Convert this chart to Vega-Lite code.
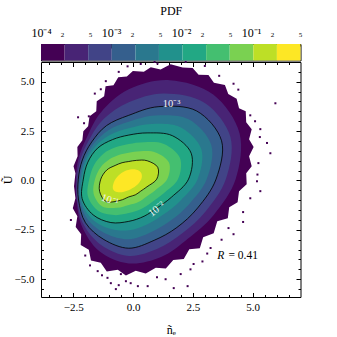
{
  "$schema": "https://vega.github.io/schema/vega-lite/v6.json",
  "padding": {"left": 0, "top": 3, "right": 5, "bottom": 8},
  "background": "white",
  "config": {
    "view": {"stroke": "black", "strokeWidth": 1},
    "font": "Liberation Serif",
    "axis": {"labelFont": "Liberation Serif", "titleFont": "Liberation Serif", "labelColor": "black", "titleColor": "black", "tickColor": "black", "titleFontWeight": "normal", "grid": false, "domain": false, "labelOverlap": false, "labelFlush": false}
  },
  "datasets": {
    "cbar": [
      {"lo": 0.0001, "hi": 0.0002173, "b": 1},
      {"lo": 0.0002173, "hi": 0.000472, "b": 2},
      {"lo": 0.000472, "hi": 0.001026, "b": 3},
      {"lo": 0.001026, "hi": 0.00223, "b": 4},
      {"lo": 0.00223, "hi": 0.00484, "b": 5},
      {"lo": 0.00484, "hi": 0.01052, "b": 6},
      {"lo": 0.01052, "hi": 0.02286, "b": 7},
      {"lo": 0.02286, "hi": 0.04966, "b": 8},
      {"lo": 0.04966, "hi": 0.1079, "b": 9},
      {"lo": 0.1079, "hi": 0.2344, "b": 10},
      {"lo": 0.2344, "hi": 0.5093, "b": 11}
    ],
    "fringe": [
      {"b":1,"i":1,"x":-2.47,"y":-0.29},{"b":1,"i":2,"x":-2.41,"y":0.37},{"b":1,"i":3,"x":-2.49,"y":0.72},{"b":1,"i":4,"x":-2.32,"y":1.23},{"b":1,"i":5,"x":-2.33,"y":1.69},{"b":1,"i":6,"x":-2.12,"y":2.04},{"b":1,"i":7,"x":-2.08,"y":2.49},{"b":1,"i":8,"x":-1.88,"y":2.75},{"b":1,"i":9,"x":-1.82,"y":3.25},{"b":1,"i":10,"x":-1.54,"y":3.51},{"b":1,"i":11,"x":-1.52,"y":4.01},{"b":1,"i":12,"x":-1.21,"y":4.27},{"b":1,"i":13,"x":-1.15,"y":4.77},{"b":1,"i":14,"x":-0.82,"y":4.82},{"b":1,"i":15,"x":-0.62,"y":5.23},{"b":1,"i":16,"x":-0.26,"y":5.26},{"b":1,"i":17,"x":-0.01,"y":5.55},{"b":1,"i":18,"x":0.45,"y":5.50},{"b":1,"i":19,"x":0.74,"y":5.74},{"b":1,"i":20,"x":1.15,"y":5.62},{"b":1,"i":21,"x":1.57,"y":5.88},{"b":1,"i":22,"x":2.07,"y":5.72},{"b":1,"i":23,"x":2.49,"y":5.70},{"b":1,"i":24,"x":2.74,"y":5.36},{"b":1,"i":25,"x":3.15,"y":5.34},{"b":1,"i":26,"x":3.38,"y":4.95},{"b":1,"i":27,"x":3.84,"y":4.84},{"b":1,"i":28,"x":3.98,"y":4.38},{"b":1,"i":29,"x":4.33,"y":4.14},{"b":1,"i":30,"x":4.43,"y":3.66},{"b":1,"i":31,"x":4.71,"y":3.50},{"b":1,"i":32,"x":4.73,"y":2.95},{"b":1,"i":33,"x":4.96,"y":2.60},{"b":1,"i":34,"x":4.85,"y":2.09},{"b":1,"i":35,"x":5.04,"y":1.69},{"b":1,"i":36,"x":4.85,"y":1.23},{"b":1,"i":37,"x":4.96,"y":0.72},{"b":1,"i":38,"x":4.73,"y":0.37},{"b":1,"i":39,"x":4.75,"y":-0.19},{"b":1,"i":40,"x":4.43,"y":-0.54},{"b":1,"i":41,"x":4.37,"y":-1.10},{"b":1,"i":42,"x":4.02,"y":-1.35},{"b":1,"i":43,"x":3.96,"y":-1.91},{"b":1,"i":44,"x":3.52,"y":-2.06},{"b":1,"i":45,"x":3.37,"y":-2.67},{"b":1,"i":46,"x":2.93,"y":-2.87},{"b":1,"i":47,"x":2.79,"y":-3.43},{"b":1,"i":48,"x":2.35,"y":-3.48},{"b":1,"i":49,"x":2.12,"y":-3.98},{"b":1,"i":50,"x":1.68,"y":-4.03},{"b":1,"i":51,"x":1.37,"y":-4.46},{"b":1,"i":52,"x":0.95,"y":-4.42},{"b":1,"i":53,"x":0.53,"y":-4.71},{"b":1,"i":54,"x":0.11,"y":-4.57},{"b":1,"i":55,"x":-0.30,"y":-4.81},{"b":1,"i":56,"x":-0.64,"y":-4.52},{"b":1,"i":57,"x":-1.10,"y":-4.61},{"b":1,"i":58,"x":-1.35,"y":-4.17},{"b":1,"i":59,"x":-1.76,"y":-4.05},{"b":1,"i":60,"x":-1.85,"y":-3.51},{"b":1,"i":61,"x":-2.19,"y":-3.27},{"b":1,"i":62,"x":-2.17,"y":-2.72},{"b":1,"i":63,"x":-2.40,"y":-2.36},{"b":1,"i":64,"x":-2.33,"y":-1.81},{"b":1,"i":65,"x":-2.52,"y":-1.40},{"b":1,"i":66,"x":-2.41,"y":-0.90}
    ],
    "poly": [
      {"b":2,"i":0,"x":4.29,"y":0.07},{"b":2,"i":1,"x":4.45,"y":2.39},{"b":2,"i":2,"x":3.35,"y":4.35},{"b":2,"i":3,"x":1.53,"y":5.08},{"b":2,"i":4,"x":-0.18,"y":4.62},{"b":2,"i":5,"x":-1.34,"y":3.46},{"b":2,"i":6,"x":-1.93,"y":2.19},{"b":2,"i":7,"x":-2.28,"y":1.12},{"b":2,"i":8,"x":-2.39,"y":0.07},{"b":2,"i":9,"x":-2.36,"y":-1.03},{"b":2,"i":10,"x":-2.14,"y":-2.32},{"b":2,"i":11,"x":-1.42,"y":-3.57},{"b":2,"i":12,"x":-0.18,"y":-4.20},{"b":2,"i":13,"x":1.17,"y":-3.88},{"b":2,"i":14,"x":2.30,"y":-2.94},{"b":2,"i":15,"x":3.38,"y":-1.73},
      {"b":3,"i":0,"x":3.88,"y":0.07},{"b":3,"i":1,"x":4.07,"y":2.20},{"b":3,"i":2,"x":3.00,"y":3.93},{"b":3,"i":3,"x":1.30,"y":4.41},{"b":3,"i":4,"x":-0.18,"y":3.96},{"b":3,"i":5,"x":-1.22,"y":3.12},{"b":3,"i":6,"x":-1.83,"y":2.07},{"b":3,"i":7,"x":-2.20,"y":1.08},{"b":3,"i":8,"x":-2.34,"y":0.07},{"b":3,"i":9,"x":-2.33,"y":-1.01},{"b":3,"i":10,"x":-2.07,"y":-2.23},{"b":3,"i":11,"x":-1.32,"y":-3.28},{"b":3,"i":12,"x":-0.18,"y":-3.82},{"b":3,"i":13,"x":1.02,"y":-3.46},{"b":3,"i":14,"x":2.07,"y":-2.66},{"b":3,"i":15,"x":3.04,"y":-1.56},
      {"b":4,"i":0,"x":3.47,"y":0.07},{"b":4,"i":1,"x":3.70,"y":2.01},{"b":4,"i":2,"x":2.66,"y":3.52},{"b":4,"i":3,"x":1.08,"y":3.74},{"b":4,"i":4,"x":-0.18,"y":3.30},{"b":4,"i":5,"x":-1.11,"y":2.78},{"b":4,"i":6,"x":-1.73,"y":1.95},{"b":4,"i":7,"x":-2.12,"y":1.04},{"b":4,"i":8,"x":-2.29,"y":0.07},{"b":4,"i":9,"x":-2.28,"y":-0.99},{"b":4,"i":10,"x":-1.99,"y":-2.14},{"b":4,"i":11,"x":-1.22,"y":-2.99},{"b":4,"i":12,"x":-0.18,"y":-3.43},{"b":4,"i":13,"x":0.88,"y":-3.03},{"b":4,"i":14,"x":1.83,"y":-2.38},{"b":4,"i":15,"x":2.70,"y":-1.39},
      {"b":5,"i":0,"x":3.08,"y":0.07},{"b":5,"i":1,"x":3.27,"y":1.80},{"b":5,"i":2,"x":2.32,"y":3.10},{"b":5,"i":3,"x":0.93,"y":3.29},{"b":5,"i":4,"x":-0.18,"y":2.97},{"b":5,"i":5,"x":-1.03,"y":2.55},{"b":5,"i":6,"x":-1.65,"y":1.85},{"b":5,"i":7,"x":-2.04,"y":1.00},{"b":5,"i":8,"x":-2.22,"y":0.07},{"b":5,"i":9,"x":-2.23,"y":-0.97},{"b":5,"i":10,"x":-1.88,"y":-2.00},{"b":5,"i":11,"x":-1.13,"y":-2.70},{"b":5,"i":12,"x":-0.18,"y":-2.98},{"b":5,"i":13,"x":0.74,"y":-2.62},{"b":5,"i":14,"x":1.56,"y":-2.04},{"b":5,"i":15,"x":2.34,"y":-1.20},
      {"b":6,"i":0,"x":2.70,"y":0.07},{"b":6,"i":1,"x":2.85,"y":1.59},{"b":6,"i":2,"x":1.98,"y":2.69},{"b":6,"i":3,"x":0.78,"y":2.86},{"b":6,"i":4,"x":-0.18,"y":2.64},{"b":6,"i":5,"x":-0.95,"y":2.31},{"b":6,"i":6,"x":-1.56,"y":1.75},{"b":6,"i":7,"x":-1.97,"y":0.97},{"b":6,"i":8,"x":-2.15,"y":0.07},{"b":6,"i":9,"x":-2.18,"y":-0.95},{"b":6,"i":10,"x":-1.78,"y":-1.87},{"b":6,"i":11,"x":-1.03,"y":-2.42},{"b":6,"i":12,"x":-0.18,"y":-2.52},{"b":6,"i":13,"x":0.60,"y":-2.21},{"b":6,"i":14,"x":1.28,"y":-1.71},{"b":6,"i":15,"x":1.98,"y":-1.02},
      {"b":7,"i":0,"x":2.32,"y":0.07},{"b":7,"i":1,"x":2.43,"y":1.38},{"b":7,"i":2,"x":1.64,"y":2.27},{"b":7,"i":3,"x":0.62,"y":2.41},{"b":7,"i":4,"x":-0.18,"y":2.30},{"b":7,"i":5,"x":-0.86,"y":2.07},{"b":7,"i":6,"x":-1.48,"y":1.64},{"b":7,"i":7,"x":-1.89,"y":0.93},{"b":7,"i":8,"x":-2.08,"y":0.07},{"b":7,"i":9,"x":-2.13,"y":-0.92},{"b":7,"i":10,"x":-1.67,"y":-1.74},{"b":7,"i":11,"x":-0.93,"y":-2.13},{"b":7,"i":12,"x":-0.18,"y":-2.07},{"b":7,"i":13,"x":0.46,"y":-1.81},{"b":7,"i":14,"x":1.01,"y":-1.38},{"b":7,"i":15,"x":1.61,"y":-0.84},
      {"b":8,"i":0,"x":1.88,"y":0.07},{"b":8,"i":1,"x":1.96,"y":1.14},{"b":8,"i":2,"x":1.29,"y":1.85},{"b":8,"i":3,"x":0.46,"y":1.94},{"b":8,"i":4,"x":-0.18,"y":1.85},{"b":8,"i":5,"x":-0.73,"y":1.68},{"b":8,"i":6,"x":-1.24,"y":1.36},{"b":8,"i":7,"x":-1.63,"y":0.79},{"b":8,"i":8,"x":-1.83,"y":0.07},{"b":8,"i":9,"x":-1.89,"y":-0.79},{"b":8,"i":10,"x":-1.48,"y":-1.52},{"b":8,"i":11,"x":-0.80,"y":-1.75},{"b":8,"i":12,"x":-0.18,"y":-1.65},{"b":8,"i":13,"x":0.34,"y":-1.44},{"b":8,"i":14,"x":0.78,"y":-1.10},{"b":8,"i":15,"x":1.27,"y":-0.66},
      {"b":9,"i":0,"x":1.43,"y":0.07},{"b":9,"i":1,"x":1.50,"y":0.91},{"b":9,"i":2,"x":0.94,"y":1.42},{"b":9,"i":3,"x":0.30,"y":1.48},{"b":9,"i":4,"x":-0.18,"y":1.41},{"b":9,"i":5,"x":-0.60,"y":1.29},{"b":9,"i":6,"x":-1.00,"y":1.06},{"b":9,"i":7,"x":-1.36,"y":0.66},{"b":9,"i":8,"x":-1.59,"y":0.07},{"b":9,"i":9,"x":-1.65,"y":-0.67},{"b":9,"i":10,"x":-1.30,"y":-1.30},{"b":9,"i":11,"x":-0.68,"y":-1.38},{"b":9,"i":12,"x":-0.18,"y":-1.24},{"b":9,"i":13,"x":0.22,"y":-1.09},{"b":9,"i":14,"x":0.55,"y":-0.82},{"b":9,"i":15,"x":0.93,"y":-0.49},
      {"b":10,"i":0,"x":0.99,"y":0.07},{"b":10,"i":1,"x":1.03,"y":0.67},{"b":10,"i":2,"x":0.59,"y":1.00},{"b":10,"i":3,"x":0.15,"y":1.02},{"b":10,"i":4,"x":-0.18,"y":0.96},{"b":10,"i":5,"x":-0.46,"y":0.90},{"b":10,"i":6,"x":-0.75,"y":0.76},{"b":10,"i":7,"x":-1.10,"y":0.53},{"b":10,"i":8,"x":-1.35,"y":0.07},{"b":10,"i":9,"x":-1.40,"y":-0.55},{"b":10,"i":10,"x":-1.12,"y":-1.07},{"b":10,"i":11,"x":-0.55,"y":-1.01},{"b":10,"i":12,"x":-0.18,"y":-0.83},{"b":10,"i":13,"x":0.09,"y":-0.73},{"b":10,"i":14,"x":0.32,"y":-0.54},{"b":10,"i":15,"x":0.58,"y":-0.32},
      {"b":11,"i":0,"x":-0.85,"y":-0.34},{"b":11,"i":1,"x":-0.76,"y":0.02},{"b":11,"i":2,"x":-0.55,"y":0.32},{"b":11,"i":3,"x":-0.26,"y":0.52},{"b":11,"i":4,"x":0.07,"y":0.57},{"b":11,"i":5,"x":0.32,"y":0.42},{"b":11,"i":6,"x":0.36,"y":0.12},{"b":11,"i":7,"x":0.20,"y":-0.19},{"b":11,"i":8,"x":-0.10,"y":-0.44},{"b":11,"i":9,"x":-0.47,"y":-0.59},{"b":11,"i":10,"x":-0.76,"y":-0.54}
    ],
    "speck": [
      {"x":5.74,"y":1.38},{"x":5.95,"y":3.91},{"x":5.32,"y":2.60},{"x":5.60,"y":1.90},{"x":5.24,"y":0.88},{"x":5.32,"y":-0.54},{"x":5.18,"y":-0.04},{"x":4.20,"y":-2.72},{"x":3.99,"y":-2.41},{"x":3.24,"y":-3.42},{"x":2.53,"y":-4.23},{"x":1.99,"y":-4.74},{"x":1.70,"y":-5.45},{"x":1.36,"y":-5.0},{"x":-0.93,"y":-5.20},{"x":-0.60,"y":-5.30},{"x":-0.10,"y":-5.20},{"x":0.20,"y":-5.35},{"x":0.61,"y":-5.35},{"x":2.28,"y":-5.35},{"x":-0.72,"y":-5.50},{"x":-1.48,"y":-4.59},{"x":-1.07,"y":-4.93},{"x":-0.51,"y":-4.74},{"x":-0.23,"y":5.78},{"x":0.32,"y":5.9},{"x":1.02,"y":5.92},{"x":1.57,"y":5.70},{"x":-1.14,"y":5.03},{"x":-1.35,"y":4.62},{"x":-1.85,"y":3.25},{"x":-2.05,"y":2.90},{"x":4.9,"y":3.3},{"x":4.6,"y":-1.6},{"x":2.9,"y":-4.1},{"x":-1.8,"y":-4.3},
      {"x":5.1,"y":3.0},{"x":5.3,"y":2.2},{"x":5.2,"y":0.3},{"x":4.9,"y":-0.9},{"x":4.6,"y":-2.1},{"x":3.7,"y":-3.0},{"x":3.1,"y":-3.7},{"x":2.4,"y":-4.5},{"x":1.0,"y":-4.9},{"x":-0.3,"y":-5.1},{"x":-1.3,"y":-4.8},{"x":-2.0,"y":-3.8},{"x":-2.6,"y":-2.0},{"x":-2.3,"y":3.2},{"x":-1.6,"y":4.4},{"x":-0.6,"y":5.5},{"x":0.9,"y":6.0},{"x":2.2,"y":6.0},{"x":3.0,"y":5.8},{"x":3.6,"y":5.3},{"x":4.4,"y":4.6},{"x":4.2,"y":4.9}
    ]
  },
  "vconcat": [
    {
      "width": 259.5,
      "height": 16.5,
      "data": {"name": "cbar"},
      "mark": {"type": "rect"},
      "encoding": {
        "x": {
          "field": "lo", "type": "quantitative",
          "scale": {"type": "log", "domain": [0.0001, 0.5093], "nice": false},
          "axis": {
            "orient": "top",
            "values": [0.0001, 0.0002, 0.0005, 0.001, 0.002, 0.005, 0.01, 0.02, 0.05, 0.1, 0.2, 0.5],
            "labelExpr": "datum.value == 0.0001 ? '10⁻⁴' : datum.value == 0.001 ? '10⁻³' : datum.value == 0.01 ? '10⁻²' : datum.value == 0.1 ? '10⁻¹' : substring(format(datum.value, '.0e'), 0, 1)",
            "labelFont": "Liberation Serif",
            "labelFontSize": {"condition": {"test": "datum.value == 0.0001 || datum.value == 0.001 || datum.value == 0.01 || datum.value == 0.1", "value": 12}, "value": 7},
            "tickSize": {"condition": {"test": "datum.value == 0.0001 || datum.value == 0.001 || datum.value == 0.01 || datum.value == 0.1", "value": -4}, "value": -2},
            "labelPadding": 9,
            "title": "PDF",
            "titleFont": "Liberation Serif",
            "titleFontWeight": "normal",
            "titleFontSize": 12,
            "titlePadding": 9
          }
        },
        "x2": {"field": "hi"},
        "fill": {
          "field": "b", "type": "ordinal",
          "scale": {"domain": [1,2,3,4,5,6,7,8,9,10,11], "range": ["#440154","#482475","#414487","#355f8d","#2a788e","#21918c","#22a884","#44bf70","#7ad151","#bddf26","#fde725"]},
          "legend": null
        }
      }
    },
    {
      "width": 259.5,
      "height": 235,
      "resolve": {"axis": {"x": "independent", "y": "independent"}},
      "layer": [
        {
          "data": {"name": "fringe"},
          "mark": {"type": "line", "filled": true, "interpolate": "linear-closed", "strokeWidth": 0},
          "encoding": {
            "x": {
              "field": "x", "type": "quantitative",
              "scale": {"domain": [-3.85, 7.0], "nice": false, "zero": false},
              "axis": {
                "orient": "bottom",
                "values": [-3.5,-3,-2.5,-2,-1.5,-1,-0.5,0,0.5,1,1.5,2,2.5,3,3.5,4,4.5,5,5.5,6,6.5],
                "labelExpr": "datum.value % 2.5 == 0 ? replace(format(datum.value, '.1f'), '-', '−') : ''",
                "tickSize": {"condition": {"test": "datum.value % 2.5 == 0", "value": -4.5}, "value": -2.5},
                "labelFont": "Liberation Serif",
                "labelFontSize": 11,
                "labelPadding": 9,
                "title": "ñₑ",
                "titleFont": "Liberation Serif",
                "titleFontWeight": "normal",
                "titleFontSize": 12,
                "titlePadding": 10
              }
            },
            "y": {
              "field": "y", "type": "quantitative",
              "scale": {"domain": [-5.9, 6.0], "nice": false, "zero": false},
              "axis": {
                "orient": "left",
                "values": [-5.5,-5,-4.5,-4,-3.5,-3,-2.5,-2,-1.5,-1,-0.5,0,0.5,1,1.5,2,2.5,3,3.5,4,4.5,5,5.5],
                "labelExpr": "datum.value % 2.5 == 0 ? replace(format(datum.value, '.1f'), '-', '−') : ''",
                "tickSize": {"condition": {"test": "datum.value % 2.5 == 0", "value": -4.5}, "value": -2.5},
                "labelFont": "Liberation Serif",
                "labelFontSize": 11,
                "labelPadding": 11.5,
                "title": "Ũ",
                "titleFont": "Liberation Serif",
                "titleFontWeight": "normal",
                "titleFontSize": 12,
                "titleX": -27
              }
            },
            "fill": {"field": "b", "type": "ordinal", "legend": null},
            "detail": {"field": "b"},
            "order": {"field": "i"}
          }
        },
        {
          "data": {"name": "poly"},
          "mark": {"type": "line", "filled": true, "interpolate": "cardinal-closed", "strokeWidth": 0},
          "encoding": {
            "x": {"field": "x", "type": "quantitative", "scale": {"domain": [-3.85, 7.0], "nice": false, "zero": false}, "axis": null},
            "y": {"field": "y", "type": "quantitative", "scale": {"domain": [-5.9, 6.0], "nice": false, "zero": false}, "axis": null},
            "fill": {"field": "b", "type": "ordinal", "legend": null},
            "detail": {"field": "b"},
            "order": {"field": "i"}
          }
        },
        {
          "data": {"name": "speck"},
          "mark": {"type": "square", "size": 4, "color": "#440154", "opacity": 1},
          "encoding": {
            "x": {"field": "x", "type": "quantitative", "scale": {"domain": [-3.85, 7.0], "nice": false, "zero": false}, "axis": null},
            "y": {"field": "y", "type": "quantitative", "scale": {"domain": [-5.9, 6.0], "nice": false, "zero": false}, "axis": null}
          }
        },
        {
          "data": {"name": "poly"},
          "transform": [{"filter": "datum.b == 4 || datum.b == 7 || datum.b == 10"}],
          "mark": {"type": "line", "interpolate": "cardinal-closed", "color": "black", "strokeWidth": 0.8},
          "encoding": {
            "x": {
              "field": "x", "type": "quantitative",
              "scale": {"domain": [-3.85, 7.0], "nice": false, "zero": false},
              "axis": {"orient": "top", "values": [-3.5,-3,-2.5,-2,-1.5,-1,-0.5,0,0.5,1,1.5,2,2.5,3,3.5,4,4.5,5,5.5,6,6.5], "labels": false, "title": null,
                "tickSize": {"condition": {"test": "datum.value % 2.5 == 0", "value": -4.5}, "value": -2.5}}
            },
            "y": {
              "field": "y", "type": "quantitative",
              "scale": {"domain": [-5.9, 6.0], "nice": false, "zero": false},
              "axis": {"orient": "right", "values": [-5.5,-5,-4.5,-4,-3.5,-3,-2.5,-2,-1.5,-1,-0.5,0,0.5,1,1.5,2,2.5,3,3.5,4,4.5,5,5.5], "labels": false, "title": null,
                "tickSize": {"condition": {"test": "datum.value % 2.5 == 0", "value": -4.5}, "value": -2.5}}
            },
            "detail": {"field": "b"},
            "order": {"field": "i"}
          }
        },
        {
          "data": {"values": [{"x": 1.61, "y": 3.86, "t": "10⁻³"}]},
          "mark": {"type": "text", "font": "Liberation Serif", "fontSize": 10.5, "color": "#f4f4f4", "angle": 0},
          "encoding": {
            "x": {"field": "x", "type": "quantitative", "axis": null},
            "y": {"field": "y", "type": "quantitative", "axis": null},
            "text": {"field": "t"}
          }
        },
        {
          "data": {"values": [{"x": 0.99, "y": -1.45, "t": "10⁻²"}]},
          "mark": {"type": "text", "font": "Liberation Serif", "fontSize": 10.5, "color": "#f4f4f4", "angle": -38},
          "encoding": {
            "x": {"field": "x", "type": "quantitative", "axis": null},
            "y": {"field": "y", "type": "quantitative", "axis": null},
            "text": {"field": "t"}
          }
        },
        {
          "data": {"values": [{"x": -0.97, "y": -1.0, "t": "10⁻¹"}]},
          "mark": {"type": "text", "font": "Liberation Serif", "fontSize": 10.5, "color": "#f4f4f4", "angle": 18},
          "encoding": {
            "x": {"field": "x", "type": "quantitative", "axis": null},
            "y": {"field": "y", "type": "quantitative", "axis": null},
            "text": {"field": "t"}
          }
        },
        {
          "data": {"values": [{"x": 3.52, "y": -3.83, "t": "R"}]},
          "mark": {"type": "text", "font": "Liberation Serif", "fontSize": 11.5, "fontStyle": "italic", "color": "black", "align": "left"},
          "encoding": {
            "x": {"field": "x", "type": "quantitative", "axis": null},
            "y": {"field": "y", "type": "quantitative", "axis": null},
            "text": {"field": "t"}
          }
        },
        {
          "data": {"values": [{"x": 3.99, "y": -3.83, "t": "= 0.41"}]},
          "mark": {"type": "text", "font": "Liberation Serif", "fontSize": 11.5, "color": "black", "align": "left"},
          "encoding": {
            "x": {"field": "x", "type": "quantitative", "axis": null},
            "y": {"field": "y", "type": "quantitative", "axis": null},
            "text": {"field": "t"}
          }
        }
      ]
    }
  ],
  "spacing": 1,
  "bounds": "flush"
}
